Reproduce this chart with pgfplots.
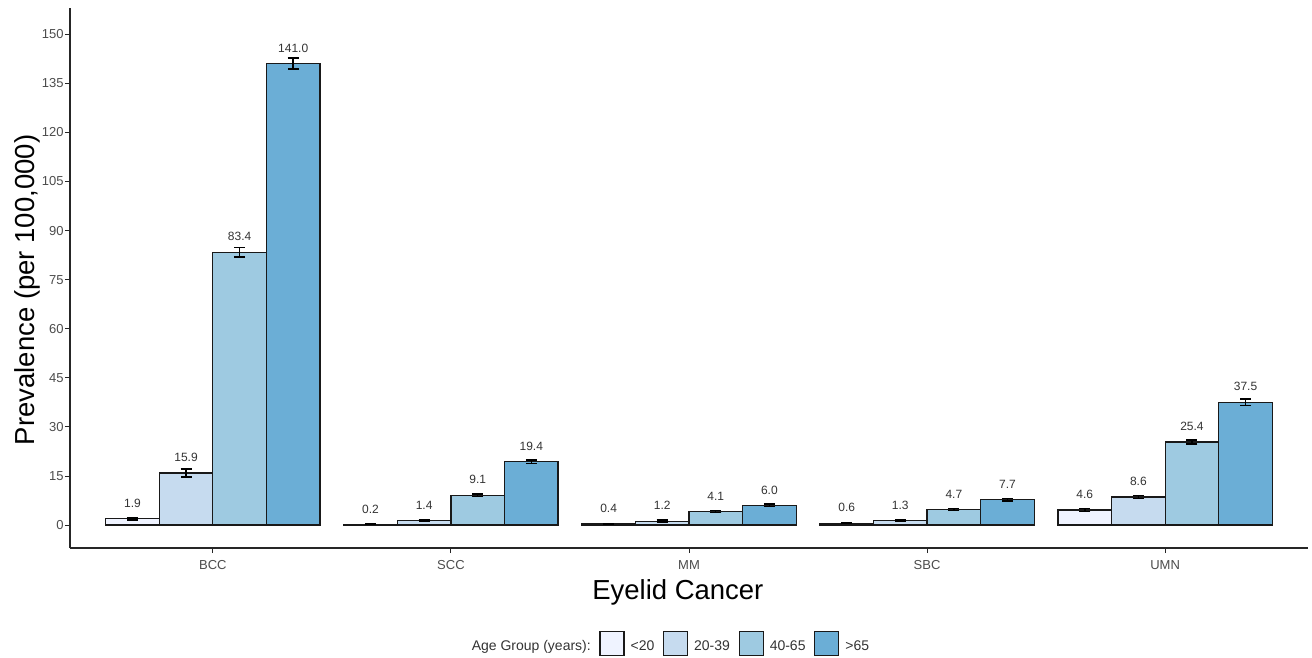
\documentclass[border=0pt]{standalone}
\usepackage{pgfplots}
\pgfplotsset{compat=1.18}
\usepackage{pgfplotstable}
\usepackage{fontspec}
\setmainfont{Liberation Sans}
\definecolor{cA}{HTML}{EFF3FF}
\definecolor{cB}{HTML}{C6DBEF}
\definecolor{cC}{HTML}{9ECAE1}
\definecolor{cD}{HTML}{6BAED6}
\pgfplotstableread{
x y e
0 1.9 0.3
1 0.2 0.1
2 0.4 0.1
3 0.6 0.15
4 4.6 0.5
}\tA
\pgfplotstableread{
x y e
0 15.9 1.2
1 1.4 0.2
2 1.2 0.3
3 1.3 0.2
4 8.6 0.5
}\tB
\pgfplotstableread{
x y e
0 83.4 1.5
1 9.1 0.4
2 4.1 0.3
3 4.7 0.3
4 25.4 0.6
}\tC
\pgfplotstableread{
x y e
0 141.0 1.7
1 19.4 0.5
2 6.0 0.4
3 7.7 0.4
4 37.5 1.0
}\tD
\pgfplotsset{
  mybar/.style={bar shift=#1, draw=black!90, line width=0.6pt,
    legend image code/.code={\draw[##1] (0pt,-4.1pt) rectangle (12pt,7.9pt); \path[draw=none, fill=none] (0pt,0pt) -- (13.3pt,0pt);},
    error bars/.cd, y dir=both, y explicit,
    error bar style={black, line width=0.7pt},
    error mark options={rotate=90, black, mark size=2.75pt, line width=0.7pt},
    /pgfplots/.cd}
}
\begin{document}
\begin{tikzpicture}
\begin{axis}[name=ax, scale only axis, width=619pt, height=270pt,
  ybar, bar width=0.225,
  xmin=-0.6, xmax=4.6, ymin=-7, ymax=158,
  axis lines*=left, axis line style={black!85, line width=0.6pt},
  xtick={0,1,2,3,4}, xticklabels={BCC,SCC,MM,SBC,UMN},
  ytick={0,15,...,150},
  tick align=outside, major tick length=2.5pt, tick style={black!85, line width=0.5pt},
  ticklabel style={font=\fontsize{6.5}{7}\selectfont, text=black!70},
  yticklabel style={inner xsep=0.5pt},
  /pgf/number format/assume math mode=true,
  xlabel={Eyelid Cancer}, ylabel={Prevalence (per 100,000)},
  label style={font=\fontsize{13.75}{15}\selectfont},
  xlabel style={at={(axis description cs:0.491,0)}, anchor=center, yshift=-22pt},
  ylabel style={at={(axis description cs:-0.0347,0.478)}, anchor=center},
  nodes near coords={\pgfmathprintnumber[fixed,fixed zerofill,precision=1,assume math mode=true]{\pgfplotspointmeta}},
  every node near coord/.append style={font=\fontsize{6}{7}\selectfont, text=black!80, anchor=center, yshift=7.75pt},
  legend style={at={(0.485,-0.178)}, anchor=center, draw=none, fill=none, legend columns=-1,
    font=\fontsize{7}{8}\selectfont, text=black!80,
    /tikz/every even column/.append style={column sep=2.3pt}},
]
\addlegendimage{empty legend}
\addlegendentry{Age Group (years):}
\addplot[fill=cA, mybar=-0.3375] table[x=x, y=y, y error=e] {\tA};
\addlegendentry{<20}
\addplot[fill=cB, mybar=-0.1125] table[x=x, y=y, y error=e] {\tB};
\addlegendentry{20-39}
\addplot[fill=cC, mybar=0.1125] table[x=x, y=y, y error=e] {\tC};
\addlegendentry{40-65}
\addplot[fill=cD, mybar=0.3375] table[x=x, y=y, y error=e] {\tD};
\addlegendentry{>65}
\end{axis}
\pgfresetboundingbox
\path ([shift={(-35pt,-55pt)}]ax.south west) rectangle ([shift={(2pt,4pt)}]ax.north east);
\end{tikzpicture}
\end{document}
